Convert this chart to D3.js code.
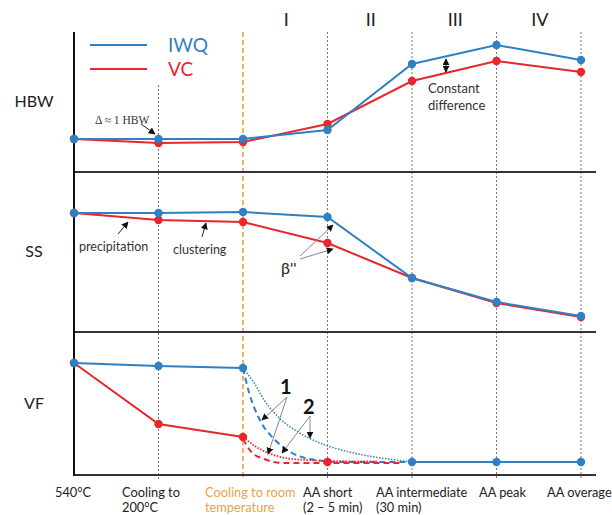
<!DOCTYPE html>
<html>
<head>
<meta charset="utf-8">
<script src="https://d3js.org/d3.v7.min.js"></script>
<style>
body { margin: 0; background: #fff; }
svg text { font-family: Lato, "Open Sans", sans-serif; }
</style>
</head>
<body>
<script>
// stages along the x axis (label lines)
var stageLines = [["540°C"], ["Cooling to", "200°C"], ["Cooling to room", "temperature"],
  ["AA short", "(2 – 5 min)"], ["AA intermediate", "(30 min)"], ["AA peak"], ["AA overage"]];
var phases = ["I", "II", "III", "IV"];

// values (arbitrary units per panel)
var hbwIWQ = [3.3, 3.3, 3.3, 4.2, 10.8, 12.7, 11.2];
var hbwVC  = [3.3, 2.9, 3.0, 4.8, 9.1, 11.1, 10.0];
var ssIWQ  = [11.9, 11.9, 12.0, 11.5, 5.4, 3.0, 1.6];
var ssVC   = [11.9, 11.2, 11.0, 8.9, 5.4, 2.9, 1.5];
var vfIWQ  = [11.2, 10.9, 10.7, null, 1.3, 1.3, 1.3];
var vfVC   = [11.2, 5.1, 3.8, null, null, null, null];
var vfVCShort = [null, null, null, 1.3, null, null, null];

// the two cooling-path curves in the VF panel: [stage position, value]
var vfIWQDotted = [[2, 10.7], [2.14, 9.1], [2.25, 7.5], [2.43, 5.7], [2.67, 4.2], [2.91, 3.2], [3.21, 2.4], [3.56, 1.8], [4, 1.3]];
var vfIWQDashed = [[2, 10.7], [2.07, 8.3], [2.2, 5.5], [2.38, 3.5], [2.56, 2.3], [2.79, 1.6], [3.15, 1.3], [4, 1.3]];
var vfVCDotted  = [[2, 3.8], [2.14, 2.9], [2.3, 2.2], [2.5, 1.7], [2.75, 1.5], [3, 1.4], [3.6, 1.35]];
var vfVCDashed  = [[2, 3.6], [2.1, 2.3], [2.25, 1.6], [2.47, 1.2], [3, 1.2], [3.85, 1.2]];

var blue = "#2f80c4", red = "#e8262b", orange = "#e8a24e";

var width = 612, height = 515;
var svg = d3.select("body").append("svg")
  .attr("width", width).attr("height", height);

var defs = svg.append("defs");
defs.append("marker").attr("id", "head")
  .attr("viewBox", "0 0 10 10").attr("refX", 9).attr("refY", 5)
  .attr("markerWidth", 7).attr("markerHeight", 7).attr("orient", "auto-start-reverse")
  .attr("markerUnits", "userSpaceOnUse")
  .append("path").attr("d", "M0,0L10,5L0,10z").attr("fill", "#111");

var x = d3.scaleLinear().domain([0, 6]).range([74, 581]);
var yHBW = d3.scaleLinear().domain([0, 14]).range([172, 32]);
var ySS  = d3.scaleLinear().domain([0, 16]).range([332, 172]);
var yVF  = d3.scaleLinear().domain([0, 14.3]).range([475, 332]);
var xRight = 596;

// vertical stage lines
[1, 3, 4, 5, 6].forEach(function(i) {
  svg.append("line")
    .attr("x1", x(i)).attr("x2", x(i))
    .attr("y1", i === 1 ? 85 : yHBW.range()[1]).attr("y2", 479)
    .attr("stroke", "#555").attr("stroke-width", 0.8).attr("stroke-dasharray", "2,2");
});
svg.append("line")
  .attr("x1", x(2)).attr("x2", x(2))
  .attr("y1", yHBW.range()[1]).attr("y2", 479)
  .attr("stroke", orange).attr("stroke-width", 1.6).attr("stroke-dasharray", "5,3");

// panel separators and left axis
[yHBW.range()[0], ySS.range()[0], yVF.range()[0]].forEach(function(yy) {
  svg.append("line").attr("x1", x(0)).attr("x2", xRight)
    .attr("y1", yy).attr("y2", yy)
    .attr("stroke", "#333").attr("stroke-width", 2);
});
svg.append("line").attr("x1", x(0)).attr("x2", x(0))
  .attr("y1", yHBW.range()[1]).attr("y2", yVF.range()[0] + 1)
  .attr("stroke", "#111").attr("stroke-width", 2);

// panel names
[["HBW", yHBW], ["SS", ySS], ["VF", yVF]].forEach(function(p) {
  var r = p[1].range();
  svg.append("text").attr("x", 34).attr("y", (r[0] + r[1]) / 2 + 5)
    .attr("text-anchor", "middle").attr("font-size", 16).attr("fill", "#222").text(p[0]);
});

// phase numerals
phases.forEach(function(t, i) {
  svg.append("text").attr("x", (x(i + 2) + x(i + 3)) / 2 + 1).attr("y", 26)
    .attr("text-anchor", "middle").attr("font-size", 18).attr("fill", "#222").text(t);
});

function drawSeries(values, yScale, color) {
  var line = d3.line()
    .defined(function(d) { return d != null; })
    .x(function(d, i) { return x(i); })
    .y(function(d) { return yScale(d); });
  svg.append("path").datum(values)
    .attr("d", line).attr("fill", "none")
    .attr("stroke", color).attr("stroke-width", 2);
  drawDots(values, yScale, color);
}
function drawDots(values, yScale, color) {
  svg.append("g").selectAll("circle")
    .data(values.map(function(v, i) { return [i, v]; }).filter(function(d) { return d[1] != null; }))
    .enter().append("circle")
    .attr("cx", function(d) { return x(d[0]); })
    .attr("cy", function(d) { return yScale(d[1]); })
    .attr("r", 4.2).attr("fill", color);
}
function drawCurve(pts, color, dash, w) {
  var line = d3.line().curve(d3.curveMonotoneX)
    .x(function(d) { return x(d[0]); })
    .y(function(d) { return yVF(d[1]); });
  svg.append("path").datum(pts).attr("d", line).attr("fill", "none")
    .attr("stroke", color).attr("stroke-width", w).attr("stroke-dasharray", dash);
}

// VF cooling curves first (beneath)
drawCurve(vfIWQDotted, blue, "1.5,1.5", 1.5);
drawCurve(vfIWQDashed, blue, "6,4", 2);
drawCurve(vfVCDotted, red, "1.5,1.5", 1.8);
drawCurve(vfVCDashed, red, "6,4", 2);

drawSeries(hbwVC, yHBW, red);
drawSeries(hbwIWQ, yHBW, blue);
drawSeries(ssVC, ySS, red);
drawSeries(ssIWQ, ySS, blue);
drawSeries(vfVC, yVF, red);
drawSeries(vfIWQ, yVF, blue);
drawDots(vfVCShort, yVF, red);

// legend
[["IWQ", blue, 45], ["VC", red, 69]].forEach(function(l) {
  svg.append("line").attr("x1", 90).attr("x2", 147).attr("y1", l[2]).attr("y2", l[2])
    .attr("stroke", l[1]).attr("stroke-width", 2);
  svg.append("text").attr("x", 168).attr("y", l[2] + 7)
    .attr("font-size", 19).attr("fill", l[1]).text(l[0]);
});

// annotations
function arrow(x1, y1, x2, y2, color) {
  svg.append("line").attr("x1", x1).attr("y1", y1).attr("x2", x2).attr("y2", y2)
    .attr("stroke", color || "#222").attr("stroke-width", 1)
    .attr("marker-end", "url(#head)");
}
svg.append("text").attr("x", 95).attr("y", 124).attr("font-size", 11.5)
  .style("font-family", "'Liberation Serif', serif").attr("fill", "#333").text("Δ ≈ 1 HBW");
arrow(141, 124, 155, 134);

svg.append("text").attr("x", 428).attr("y", 93).attr("font-size", 13).attr("fill", "#333").text("Constant");
svg.append("text").attr("x", 428).attr("y", 110).attr("font-size", 13).attr("fill", "#333").text("difference");
svg.append("line").attr("x1", 446).attr("x2", 446).attr("y1", 59).attr("y2", 72)
  .attr("stroke", "#111").attr("stroke-width", 1)
  .attr("marker-start", "url(#head)").attr("marker-end", "url(#head)");

svg.append("text").attr("x", 79).attr("y", 251).attr("font-size", 12.5).attr("fill", "#333").text("precipitation");
arrow(118, 234, 128, 222);
svg.append("text").attr("x", 173).attr("y", 254).attr("font-size", 12.5).attr("fill", "#333").text("clustering");
arrow(202, 237, 206, 223);

svg.append("text").attr("x", 281).attr("y", 274).attr("font-size", 16).attr("fill", "#222").text("β''");
arrow(300, 256, 333, 225, "#888");
arrow(300, 259, 333, 249, "#888");

svg.append("text").attr("x", 280).attr("y", 394).attr("font-size", 20).attr("font-weight", "bold").attr("fill", "#111").text("1");
svg.append("text").attr("x", 303).attr("y", 414).attr("font-size", 20).attr("font-weight", "bold").attr("fill", "#111").text("2");
arrow(287, 397, 262, 420, "#888");
arrow(287, 397, 268, 454, "#888");
arrow(310, 416, 282, 453, "#888");
arrow(310, 416, 310, 438, "#888");

// stage labels
stageLines.forEach(function(lines, i) {
  var t = svg.append("text")
    .attr("font-size", 12.8)
    .attr("fill", i === 2 ? orange : "#222");
  var xs = [55, 122, 205, 303, 376, 479, 547][i];
  lines.forEach(function(s, k) {
    t.append("tspan").attr("x", xs).attr("y", 497 + k * 14.5).text(s);
  });
});
</script>
</body>
</html>
